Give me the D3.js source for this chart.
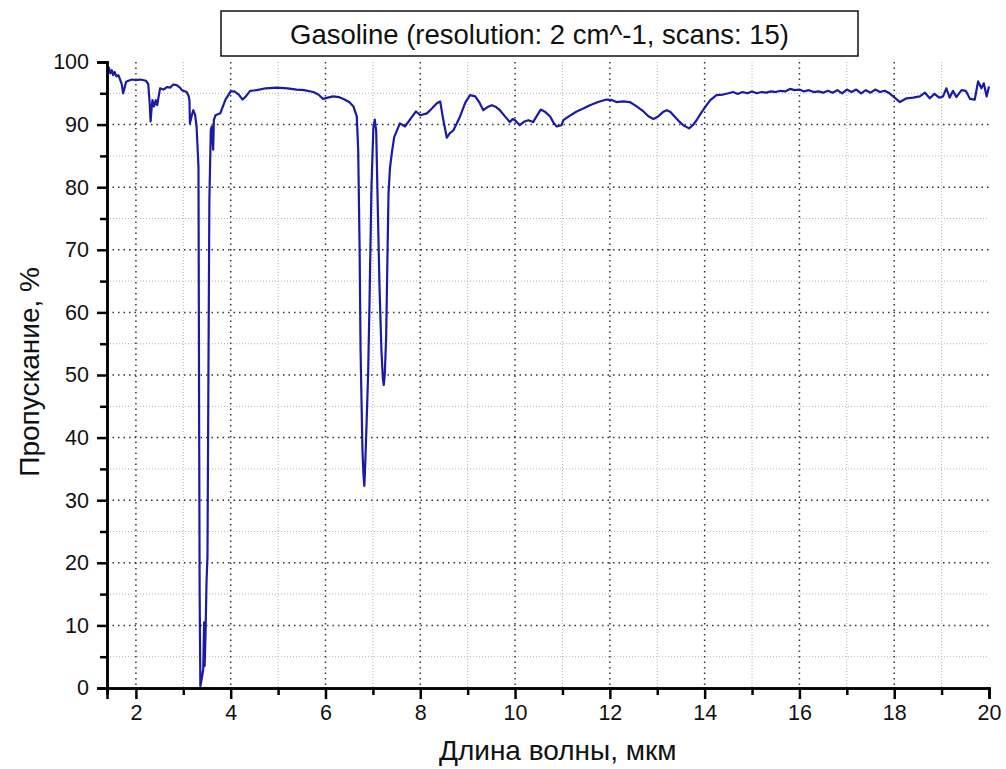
<!DOCTYPE html>
<html>
<head>
<meta charset="utf-8">
<script src="https://cdn.jsdelivr.net/npm/d3@7"></script>
<style>
    body { margin: 0; background: #fff; font-family: "Liberation Sans", Arial, sans-serif; }
    #chart { width: 1006px; height: 769px; }
</style>
</head>
<body>
<div id="chart"></div>
<script>

// wavelength, um
const wavelength = [
    1.39, 1.41, 1.43, 1.46, 1.49, 1.52, 1.55, 1.59, 1.63, 1.66, 1.70, 1.73, 1.76, 1.79, 1.84, 1.92,
    2.00, 2.10, 2.21, 2.26, 2.29, 2.31, 2.33, 2.35, 2.38, 2.42, 2.45, 2.48, 2.51, 2.58, 2.66, 2.72,
    2.79, 2.86, 2.93, 2.97, 3.07, 3.11, 3.13, 3.14, 3.18, 3.21, 3.25, 3.28, 3.32, 3.335, 3.345, 3.36,
    3.39, 3.42, 3.44, 3.45, 3.47, 3.49, 3.51, 3.53, 3.55, 3.58, 3.60, 3.63, 3.645, 3.68, 3.78, 3.89,
    4.00, 4.08, 4.17, 4.25, 4.32, 4.41, 4.55, 4.74, 4.97, 5.20, 5.39, 5.55, 5.74, 5.85, 5.95, 6.05,
    6.16, 6.28, 6.38, 6.50, 6.59, 6.66, 6.69, 6.72, 6.74, 6.76, 6.78, 6.80, 6.82, 6.84, 6.87, 6.90,
    6.93, 6.97, 7.01, 7.04, 7.07, 7.10, 7.14, 7.18, 7.21, 7.23, 7.25, 7.28, 7.31, 7.33, 7.36, 7.40,
    7.45, 7.57, 7.68, 7.80, 7.91, 8.00, 8.14, 8.25, 8.35, 8.42, 8.48, 8.56, 8.62, 8.70, 8.84, 8.95,
    9.05, 9.16, 9.25, 9.33, 9.42, 9.51, 9.60, 9.68, 9.80, 9.89, 9.95, 10.00, 10.10, 10.20, 10.28, 10.38,
    10.46, 10.54, 10.64, 10.74, 10.82, 10.88, 10.98, 11.02, 11.15, 11.30, 11.45, 11.58, 11.75, 11.93, 12.05, 12.14,
    12.28, 12.42, 12.55, 12.71, 12.82, 12.92, 13.02, 13.12, 13.20, 13.28, 13.34, 13.45, 13.55, 13.67, 13.75, 13.83,
    13.93, 14.04, 14.12, 14.25, 14.39, 14.50, 14.60, 14.70, 14.80, 14.90, 15.00, 15.10, 15.20, 15.30, 15.40, 15.50,
    15.60, 15.70, 15.80, 15.90, 16.00, 16.10, 16.20, 16.30, 16.40, 16.50, 16.60, 16.70, 16.80, 16.90, 17.00, 17.10,
    17.20, 17.30, 17.40, 17.50, 17.60, 17.70, 17.80, 17.90, 17.98, 18.12, 18.26, 18.40, 18.54, 18.65, 18.75, 18.85,
    18.95, 19.03, 19.10, 19.17, 19.24, 19.31, 19.42, 19.51, 19.60, 19.70, 19.77, 19.84, 19.89, 19.95, 20.00
];

// transmission, %
const transmission = [
    99.0, 98.3, 99.1, 98.2, 98.7, 97.9, 98.4, 97.7, 97.9, 97.3, 96.5, 95.0, 95.8, 96.8, 97.0, 97.2,
    97.1, 97.2, 97.0, 96.5, 93.5, 90.5, 92.5, 93.9, 92.9, 93.9, 93.1, 94.5, 95.8, 95.6, 96.0, 95.9,
    96.4, 96.3, 95.9, 95.5, 95.2, 94.6, 93.9, 90.2, 91.5, 92.3, 91.5, 89.7, 83.3, 40.0, 15.0, 0.3,
    1.5, 3.0, 10.5, 3.5, 9.0, 17.0, 21.0, 50.0, 78.0, 89.1, 89.7, 86.0, 90.7, 91.5, 91.8, 94.0,
    95.3, 95.3, 94.8, 94.0, 94.5, 95.4, 95.5, 95.8, 95.9, 95.8, 95.6, 95.5, 95.2, 94.8, 94.1, 94.3,
    94.5, 94.4, 94.1, 93.6, 92.9, 91.3, 86.0, 70.0, 54.0, 46.0, 38.0, 34.3, 32.3, 36.0, 43.0, 50.3,
    62.0, 80.0, 89.5, 90.8, 89.0, 78.0, 64.0, 54.0, 49.5, 48.4, 50.0, 56.0, 70.0, 79.0, 83.0, 85.5,
    88.0, 90.2, 89.7, 91.0, 92.1, 91.5, 91.8, 92.6, 93.4, 93.7, 91.0, 87.9, 88.6, 89.1, 91.3, 93.5,
    94.7, 94.5, 93.5, 92.3, 92.8, 93.1, 92.8, 92.3, 91.2, 90.4, 90.9, 90.7, 89.9, 90.5, 90.7, 90.4,
    91.4, 92.4, 92.0, 91.3, 90.2, 89.7, 89.9, 90.7, 91.4, 92.1, 92.6, 93.1, 93.6, 94.0, 93.9, 93.6,
    93.7, 93.6, 93.0, 92.1, 91.3, 90.9, 91.3, 92.0, 92.3, 92.0, 91.5, 90.6, 89.9, 89.4, 89.9, 90.7,
    91.9, 93.1, 93.9, 94.7, 94.8, 95.0, 95.2, 94.9, 95.2, 95.0, 95.3, 95.0, 95.2, 95.1, 95.3, 95.2,
    95.4, 95.3, 95.7, 95.5, 95.6, 95.3, 95.5, 95.2, 95.3, 95.1, 95.4, 95.1, 95.5, 95.0, 95.6, 95.2,
    95.6, 95.0, 95.5, 95.1, 95.6, 95.2, 95.4, 95.0, 94.5, 93.6, 94.2, 94.3, 94.5, 95.1, 94.2, 94.9,
    94.3, 94.5, 95.8, 94.3, 95.4, 94.4, 95.5, 95.4, 94.1, 94.0, 96.9, 95.8, 96.6, 94.5, 96.1
];

const xTicks = [2, 4, 6, 8, 10, 12, 14, 16, 18, 20];
const xMinorTicks = [3, 5, 7, 9, 11, 13, 15, 17, 19];
const yTicks = [0, 10, 20, 30, 40, 50, 60, 70, 80, 90, 100];
const yMinorTicks = [5, 15, 25, 35, 45, 55, 65, 75, 85, 95];

const chartTitle = "Gasoline (resolution: 2 cm^-1, scans: 15)";
const xLabel = "Длина волны, мкм";
const yLabel = "Пропускание, %";


class SpectrumViz {

    constructor(parentElement) {
        this.parentElement = parentElement;
        this.initVis();
    }

    initVis() {
        let vis = this;
        vis.margin = {top: 62, right: 17, bottom: 81, left: 107};
        vis.width = 1006 - vis.margin.left - vis.margin.right;
        vis.height = 769 - vis.margin.top - vis.margin.bottom;

        vis.root = d3.select("#" + vis.parentElement).append("svg")
            .attr("width", 1006)
            .attr("height", 769);

        vis.svg = vis.root.append("g")
            .attr("transform", "translate(" + vis.margin.left + "," + vis.margin.top + ")");

        vis.x = d3.scaleLinear().domain([1.39, 20]).range([0, vis.width]);
        vis.y = d3.scaleLinear().domain([0, 100]).range([vis.height, 0]);

        vis.data = wavelength.map((w, i) => ({w: w, t: transmission[i]}));

        vis.drawGrid();
        vis.drawLine();
        vis.drawAxes();
        vis.drawLabels();
    }

    drawGrid() {
        let vis = this;
        let grid = vis.svg.append("g").attr("class", "grid");

        // minor grid, light
        grid.selectAll(".xminor").data(xMinorTicks).enter().append("line")
            .attr("x1", d => vis.x(d)).attr("x2", d => vis.x(d))
            .attr("y1", 0).attr("y2", vis.height)
            .attr("stroke", "#b5b5b5").attr("stroke-width", 1)
            .attr("stroke-dasharray", "1,2");
        grid.selectAll(".yminor").data(yMinorTicks).enter().append("line")
            .attr("x1", 0).attr("x2", vis.width)
            .attr("y1", d => vis.y(d)).attr("y2", d => vis.y(d))
            .attr("stroke", "#b5b5b5").attr("stroke-width", 1)
            .attr("stroke-dasharray", "1,2");

        // major grid, dark dots
        grid.selectAll(".xmajor").data(xTicks.filter(d => d < 20)).enter().append("line")
            .attr("x1", d => vis.x(d)).attr("x2", d => vis.x(d))
            .attr("y1", 0).attr("y2", vis.height)
            .attr("stroke", "#333").attr("stroke-width", 1.5)
            .attr("stroke-dasharray", "1.5,4");
        grid.selectAll(".ymajor").data(yTicks.filter(d => d > 0 && d < 100)).enter().append("line")
            .attr("x1", 0).attr("x2", vis.width)
            .attr("y1", d => vis.y(d)).attr("y2", d => vis.y(d))
            .attr("stroke", "#333").attr("stroke-width", 1.5)
            .attr("stroke-dasharray", "1.5,4");
    }

    drawLine() {
        let vis = this;
        let line = d3.line()
            .x(d => vis.x(d.w))
            .y(d => vis.y(d.t));

        vis.svg.append("path")
            .datum(vis.data)
            .attr("fill", "none")
            .attr("stroke", "#1a1aa6")
            .attr("stroke-width", 2.2)
            .attr("stroke-linejoin", "round")
            .attr("d", line);
    }

    drawAxes() {
        let vis = this;

        let xAxis = d3.axisBottom(vis.x).tickValues(xTicks).tickSize(11).tickPadding(6).tickFormat(d3.format("d"));
        let xMinor = d3.axisBottom(vis.x).tickValues(xMinorTicks).tickSize(7).tickFormat("");
        let yAxis = d3.axisLeft(vis.y).tickValues(yTicks).tickSize(10).tickPadding(8).tickFormat(d3.format("d"));
        let yMinor = d3.axisLeft(vis.y).tickValues(yMinorTicks).tickSize(7).tickFormat("");

        let gx = vis.svg.append("g").attr("class", "x-axis axis")
            .attr("transform", "translate(0," + vis.height + ")");
        gx.call(xAxis);
        gx.append("g").call(xMinor);

        let gy = vis.svg.append("g").attr("class", "y-axis axis");
        gy.call(yAxis);
        gy.append("g").call(yMinor);

        vis.svg.selectAll(".axis path.domain")
            .attr("stroke", "#000").attr("stroke-width", 2.5);
        vis.svg.selectAll(".axis .tick line")
            .attr("stroke", "#000").attr("stroke-width", 2.5);
        vis.svg.selectAll(".axis .tick text")
            .attr("font-family", "Liberation Sans, Arial, sans-serif")
            .attr("font-size", 21.5)
            .attr("fill", "#111");
    }

    drawLabels() {
        let vis = this;

        // title box
        let tg = vis.root.append("g");
        tg.append("rect")
            .attr("x", 221).attr("y", 11)
            .attr("width", 637).attr("height", 45)
            .attr("fill", "#fff")
            .attr("stroke", "#111")
            .attr("stroke-width", 1.5);
        tg.append("text")
            .attr("x", 539.5).attr("y", 44)
            .attr("text-anchor", "middle")
            .attr("font-size", 27.5)
            .attr("fill", "#111")
            .text(chartTitle);

        vis.root.append("text")
            .attr("x", vis.margin.left + vis.x(10.9)).attr("y", 760)
            .attr("text-anchor", "middle")
            .attr("font-size", 28)
            .attr("fill", "#111")
            .text(xLabel);

        vis.root.append("text")
            .attr("transform", "translate(39," + (vis.margin.top + vis.y(50.5)) + ") rotate(-90)")
            .attr("text-anchor", "middle")
            .attr("font-size", 28)
            .attr("fill", "#111")
            .text(yLabel);
    }
}

new SpectrumViz("chart");

</script>
</body>
</html>
